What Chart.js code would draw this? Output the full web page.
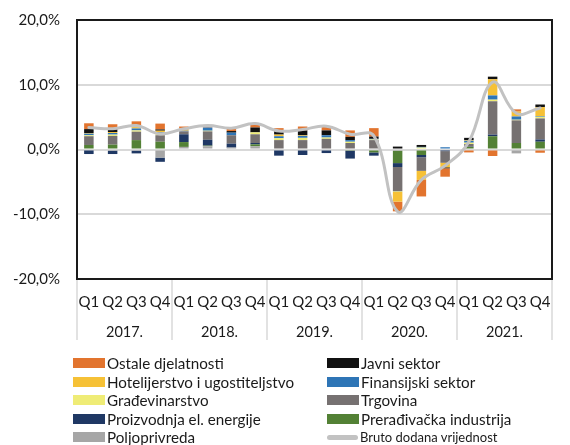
<!DOCTYPE html>
<html><head><meta charset="utf-8">
<script src="https://cdn.jsdelivr.net/npm/chart.js@4"></script>
<style>
html,body{margin:0;padding:0;background:#fff;}
#wrap{position:relative;width:570px;height:445px;overflow:hidden;font-family:Lato,sans-serif;color:#1a1a1a;}
#c{position:absolute;left:0;top:0;}
#legend{position:absolute;left:0;top:0;width:570px;height:445px;}
.item{position:absolute;height:18px;display:flex;align-items:center;font-size:15.2px;white-space:nowrap;line-height:18px;}
.sw{width:32px;height:10px;margin-right:2px;flex:none;}
.ln{width:31px;height:5px;border-radius:3px;margin-right:2px;flex:none;}
.small{font-size:13px;}
</style></head>
<body>
<div id="wrap"><canvas id="c" width="570" height="350"></canvas><div id="legend"></div></div>
<script>
const quarters = ['Q1','Q2','Q3','Q4','Q1','Q2','Q3','Q4','Q1','Q2','Q3','Q4','Q1','Q2','Q3','Q4','Q1','Q2','Q3','Q4'];
const years = ['2017.','2018.','2019.','2020.','2021.'];

const poljoprivreda = [-0.15,-0.2,-0.2,-1.25, 0.4,0.5,0.3,0.5, 0,0,0.15,0, 0,-0.2,0,-0.15, 0,0,-0.6,0];
const preradjivacka = [0.7,0.75,1.45,1.2, 0.75,0.1,0,0.3, 0,0,0,-0.2, -0.45,-1.9,-0.85,0, 0.4,2.05,1.0,1.2];
const proizvodnjaEl = [-0.55,-0.5,-0.4,-0.65, 1.2,0.9,0.6,0.2, -0.95,-0.85,-0.55,-1.2, -0.5,-0.6,-0.35,-0.1, 0.05,0.25,0,0.35];
const trgovina = [1.35,1.35,1.3,1.0, 0.45,1.3,1.3,1.35, 1.45,1.45,1.5,1.0, 1.45,-3.75,-2.1,-1.8, 0.4,5.15,3.5,3.25];
const gradjevinarstvo = [0.15,0.2,0.2,0.2, 0,0.1,0,0.3, 0.3,0.35,0.2,0.2, 0.1,-0.1,0.3,0, 0.2,0.25,0.1,0.25];
const finansijski = [0.25,0.25,0.3,0.25, 0.1,0.5,0.4,0, 0.3,0.3,0.35,0.25, 0.1,0,0.1,0.35, 0.3,0.65,0.5,0.1];
const hotelijerstvo = [0.1,0.15,0.2,0.25, 0.3,0,0,0, 0.25,0.1,0,0, 0,-1.5,-1.4,-0.7, 0.1,2.5,0.75,1.4];
const javniSektor = [0.6,0.6,0.3,0.2, 0,0,0.25,0.75, 0.5,0.75,0.75,0.5, 0.35,0.45,0.3,-0.15, 0.35,0.4,0,0.4];
const ostale = [0.9,0.6,0.6,0.9, 0.35,0.4,0.35,0.5, 0.5,0.6,0.6,1.0, 1.3,-1.5,-2.55,-1.3, -0.45,-1.0,0.35,-0.5];
const brutoDodana = [3.4,3.2,3.7,2.4, 3.2,3.7,3.3,4.0, 2.85,3.1,3.6,2.35, 2.1,-9.6,-4.7,-2.5, 1.2,10.4,5.6,6.4];

const barSeries = [
  {label:'Poljoprivreda', data:poljoprivreda, color:'#a6a6a6'},
  {label:'Prerađivačka industrija', data:preradjivacka, color:'#538135'},
  {label:'Proizvodnja el. energije', data:proizvodnjaEl, color:'#1f3864'},
  {label:'Trgovina', data:trgovina, color:'#767171'},
  {label:'Građevinarstvo', data:gradjevinarstvo, color:'#efec76'},
  {label:'Finansijski sektor', data:finansijski, color:'#2e75b6'},
  {label:'Hotelijerstvo i ugostiteljstvo', data:hotelijerstvo, color:'#f6c136'},
  {label:'Javni sektor', data:javniSektor, color:'#111111'},
  {label:'Ostale djelatnosti', data:ostale, color:'#e2742e'}
];
const lineSeries = {label:'Bruto dodana vrijednost', data:brutoDodana, color:'#c2c2c2'};

const TXT = '#1a1a1a';

const framePlugin = {
  id:'frame',
  afterDatasetsDraw(chart){
    const {ctx, chartArea:a, scales} = chart;
    const x = scales.x;
    ctx.save();
    ctx.strokeStyle = '#d9d9d9';
    ctx.lineWidth = 1.5;
    const n = quarters.length;
    for (let i = 0; i <= n; i += 4) {
      let px;
      if (i === 0) px = a.left;
      else if (i === n) px = a.right;
      else px = (x.getPixelForValue(i - 1) + x.getPixelForValue(i)) / 2;
      ctx.beginPath();
      ctx.moveTo(px, a.bottom + 1);
      ctx.lineTo(px, a.bottom + 61);
      ctx.stroke();
    }
    ctx.strokeStyle = TXT;
    ctx.lineWidth = 2;
    ctx.strokeRect(a.left, a.top, a.right - a.left, a.bottom - a.top);
    ctx.restore();
  }
};

function build(){
  Chart.defaults.font.family = 'Lato';
  Chart.defaults.color = TXT;
  const datasets = [
    {type:'line', label:lineSeries.label, data:lineSeries.data, borderColor:lineSeries.color,
     backgroundColor:lineSeries.color, borderWidth:3, pointRadius:0, tension:0.4, fill:false,
     order:0, stack:'line', borderCapStyle:'round'}
  ].concat(barSeries.map(s => ({
    type:'bar', label:s.label, data:s.data, backgroundColor:s.color, borderWidth:0,
    order:1, stack:'bars', categoryPercentage:1, barPercentage:0.4
  })));

  new Chart(document.getElementById('c'), {
    type:'bar',
    data:{labels:quarters, datasets},
    options:{
      responsive:false, animation:false, devicePixelRatio:1,
      layout:{padding:{left:0, right:18, top:20, bottom:0}},
      plugins:{legend:{display:false}, tooltip:{enabled:false}},
      scales:{
        x:{stacked:true, offset:true, grid:{display:false, drawTicks:false}, border:{display:false},
           ticks:{font:{size:15}, color:TXT, padding:14, maxRotation:0, autoSkip:false},
           afterFit(s){ s.height = 37; s.paddingLeft = 0; s.paddingRight = 0; }},
        x2:{type:'category', labels:years, position:'bottom', offset:true,
            grid:{display:false, drawTicks:false}, border:{display:false},
            ticks:{font:{size:14.5}, color:TXT, padding:8, maxRotation:0},
            afterFit(s){ s.height = 34; s.paddingLeft = 0; s.paddingRight = 0; }},
        y:{stacked:true, min:-20, max:20,
           ticks:{stepSize:10, font:{size:15}, color:TXT, padding:17,
                  callback:v => v.toFixed(1).replace('.', ',') + '%'},
           grid:{color:'#d9d9d9', lineWidth:2, drawTicks:false}, border:{display:false},
           afterFit(s){ s.width = 77; s.paddingTop = 0; s.paddingBottom = 0; }}
      }
    },
    plugins:[framePlugin]
  });

  const items = barSeries.slice().reverse().map(s => ({label:s.label, color:s.color, line:false}));
  items.push({label:lineSeries.label, color:lineSeries.color, line:true});
  const leg = document.getElementById('legend');
  const colX = [73, 327];
  items.forEach((it, i) => {
    const row = Math.floor(i / 2), col = i % 2;
    const d = document.createElement('div');
    d.className = 'item' + (it.line ? ' small' : '');
    d.style.left = colX[col] + 'px';
    d.style.top = (354 + row * 18.5) + 'px';
    const sw = document.createElement('span');
    sw.className = it.line ? 'ln' : 'sw';
    sw.style.background = it.color;
    const t = document.createElement('span');
    t.textContent = it.label;
    d.appendChild(sw); d.appendChild(t);
    leg.appendChild(d);
  });
}
if (document.fonts && document.fonts.load) {
  Promise.all([document.fonts.load('15px Lato'), document.fonts.load('16px Lato')]).then(build, build);
} else build();
</script>
</body></html>
